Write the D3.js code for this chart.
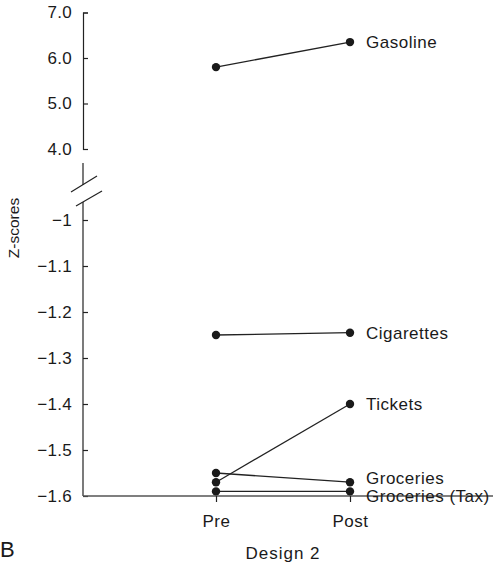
<!DOCTYPE html>
<html>
<head>
<meta charset="utf-8">
<script src="https://cdn.jsdelivr.net/npm/d3@7"></script>
<style>
  body { margin: 0; background: #fff; }
  svg { display: block; }
  text { font-family: "Liberation Sans", Arial, sans-serif; fill: #1a1a1a; }
</style>
</head>
<body>
<svg></svg>
<script>
let width = 497;
let height = 568;

// data
let periods = ["Pre", "Post"];
let items = ["Gasoline", "Cigarettes", "Tickets", "Groceries", "Groceries (Tax)"];
let preValues = [5.80, -1.25, -1.57, -1.55, -1.59];
let postValues = [6.35, -1.245, -1.40, -1.57, -1.59];
let upperTicks = [4, 5, 6, 7];
let upperTickLabels = ["4.0", "5.0", "6.0", "7.0"];
let lowerTicks = [-1, -1.1, -1.2, -1.3, -1.4, -1.5, -1.6];
let lowerTickLabels = ["\u22121", "\u22121.1", "\u22121.2", "\u22121.3", "\u22121.4", "\u22121.5", "\u22121.6"];

let axisX = 83;
let fontSize = 17;

let xScale = d3.scalePoint()
    .domain(periods)
    .range([216, 350]);

let yTop = d3.scaleLinear()
    .domain([4, 7])
    .range([149, 12.5]);

let yBot = d3.scaleLinear()
    .domain([-1.6, -1])
    .range([496, 220]);

function yPos(v) {
    return v > 0 ? yTop(v) : yBot(v);
}

let svg = d3.select("svg")
    .attr("width", width)
    .attr("height", height);

// upper axis (bracket shaped domain)
let topAxis = d3.axisLeft(yTop)
    .tickValues(upperTicks)
    .tickFormat((d, i) => upperTickLabels[i])
    .tickSize(-5)
    .tickPadding(11);

let gTop = svg.append("g")
    .attr("transform", "translate(" + axisX + ",0)")
    .call(topAxis);

// lower axis
let botAxis = d3.axisLeft(yBot)
    .tickValues(lowerTicks)
    .tickFormat((d, i) => lowerTickLabels[i])
    .tickSize(-5)
    .tickSizeOuter(0)
    .tickPadding(11);

let gBot = svg.append("g")
    .attr("transform", "translate(" + axisX + ",0)")
    .call(botAxis);
gBot.select(".domain").remove();

[gTop, gBot].forEach(g => {
    g.selectAll("path, line").attr("stroke", "#222").attr("stroke-width", 1.2);
    g.selectAll("text")
        .attr("font-size", fontSize)
        .attr("letter-spacing", 0.3)
        .attr("font-family", "Liberation Sans, Arial, sans-serif")
        .attr("fill", "#1a1a1a");
});

let axisStyle = sel => sel.attr("stroke", "#222").attr("stroke-width", 1.2).attr("fill", "none");

// lower axis line, up to the break
svg.append("line")
    .attr("x1", axisX).attr("x2", axisX)
    .attr("y1", yBot(-1.6)).attr("y2", yBot(-1) - 18)
    .call(axisStyle);

// stub below the upper axis and the break marks
let yb = yTop(4);
svg.append("line")
    .attr("x1", axisX).attr("x2", axisX)
    .attr("y1", yb + 14).attr("y2", yb + 36)
    .call(axisStyle);
svg.append("line")
    .attr("x1", axisX - 12).attr("y1", yb + 43)
    .attr("x2", axisX + 14).attr("y2", yb + 27)
    .call(axisStyle);
svg.append("line")
    .attr("x1", axisX - 7).attr("y1", yb + 57)
    .attr("x2", axisX + 19).attr("y2", yb + 42)
    .call(axisStyle);

// x axis
svg.append("line")
    .attr("x1", axisX).attr("x2", width - 4)
    .attr("y1", yBot(-1.6)).attr("y2", yBot(-1.6))
    .attr("stroke", "#555")
    .attr("stroke-width", 1.3);

let xAxis = d3.axisBottom(xScale)
    .tickSize(6)
    .tickPadding(13);

let gX = svg.append("g")
    .attr("transform", "translate(0," + yBot(-1.6) + ")")
    .call(xAxis);
gX.select(".domain").remove();
gX.selectAll("line").attr("stroke", "#222").attr("stroke-width", 1.2);
gX.selectAll("text")
    .attr("font-size", fontSize)
    .attr("letter-spacing", 0.5)
    .attr("font-family", "Liberation Sans, Arial, sans-serif")
    .attr("fill", "#1a1a1a");

// series
let data = items.map((name, i) => ({ name: name, pre: preValues[i], post: postValues[i] }));

svg.selectAll(".series")
    .data(data)
    .enter()
    .append("line")
    .attr("class", "series")
    .attr("x1", xScale("Pre"))
    .attr("y1", d => yPos(d.pre))
    .attr("x2", xScale("Post"))
    .attr("y2", d => yPos(d.post))
    .attr("stroke", "#222")
    .attr("stroke-width", 1.3);

let points = [];
data.forEach(d => {
    points.push({ p: "Pre", v: d.pre });
    points.push({ p: "Post", v: d.post });
});

svg.selectAll("circle")
    .data(points)
    .enter()
    .append("circle")
    .attr("cx", d => xScale(d.p))
    .attr("cy", d => yPos(d.v))
    .attr("r", 4.2)
    .attr("fill", "#1a1a1a");

// labels beside the post points, pushed apart where they collide
let minGap = 18;
let labelY = data.map(d => yPos(d.post));
for (let i = 1; i < labelY.length; i++) {
    for (let j = 0; j < i; j++) {
        let gap = labelY[i] - labelY[j];
        if (Math.abs(gap) < minGap) {
            let mid = (labelY[i] + labelY[j]) / 2;
            labelY[j] = mid - minGap / 2;
            labelY[i] = mid + minGap / 2;
        }
    }
}

svg.selectAll(".label")
    .data(data)
    .enter()
    .append("text")
    .attr("class", "label")
    .attr("x", xScale("Post") + 16)
    .attr("y", (d, i) => labelY[i])
    .attr("dy", "0.35em")
    .attr("font-size", fontSize)
    .attr("letter-spacing", 0.5)
    .text(d => d.name);

// axis titles
svg.append("text")
    .attr("transform", "rotate(-90)")
    .attr("x", -228)
    .attr("y", 19)
    .style("text-anchor", "middle")
    .attr("font-size", 15.5)
    .text("Z-scores");

svg.append("text")
    .attr("x", 283)
    .attr("y", 559)
    .style("text-anchor", "middle")
    .attr("font-size", fontSize)
    .attr("letter-spacing", 1)
    .text("Design 2");

svg.append("text")
    .attr("x", 0)
    .attr("y", 557)
    .attr("font-size", 22)
    .text("B");
</script>
</body>
</html>
